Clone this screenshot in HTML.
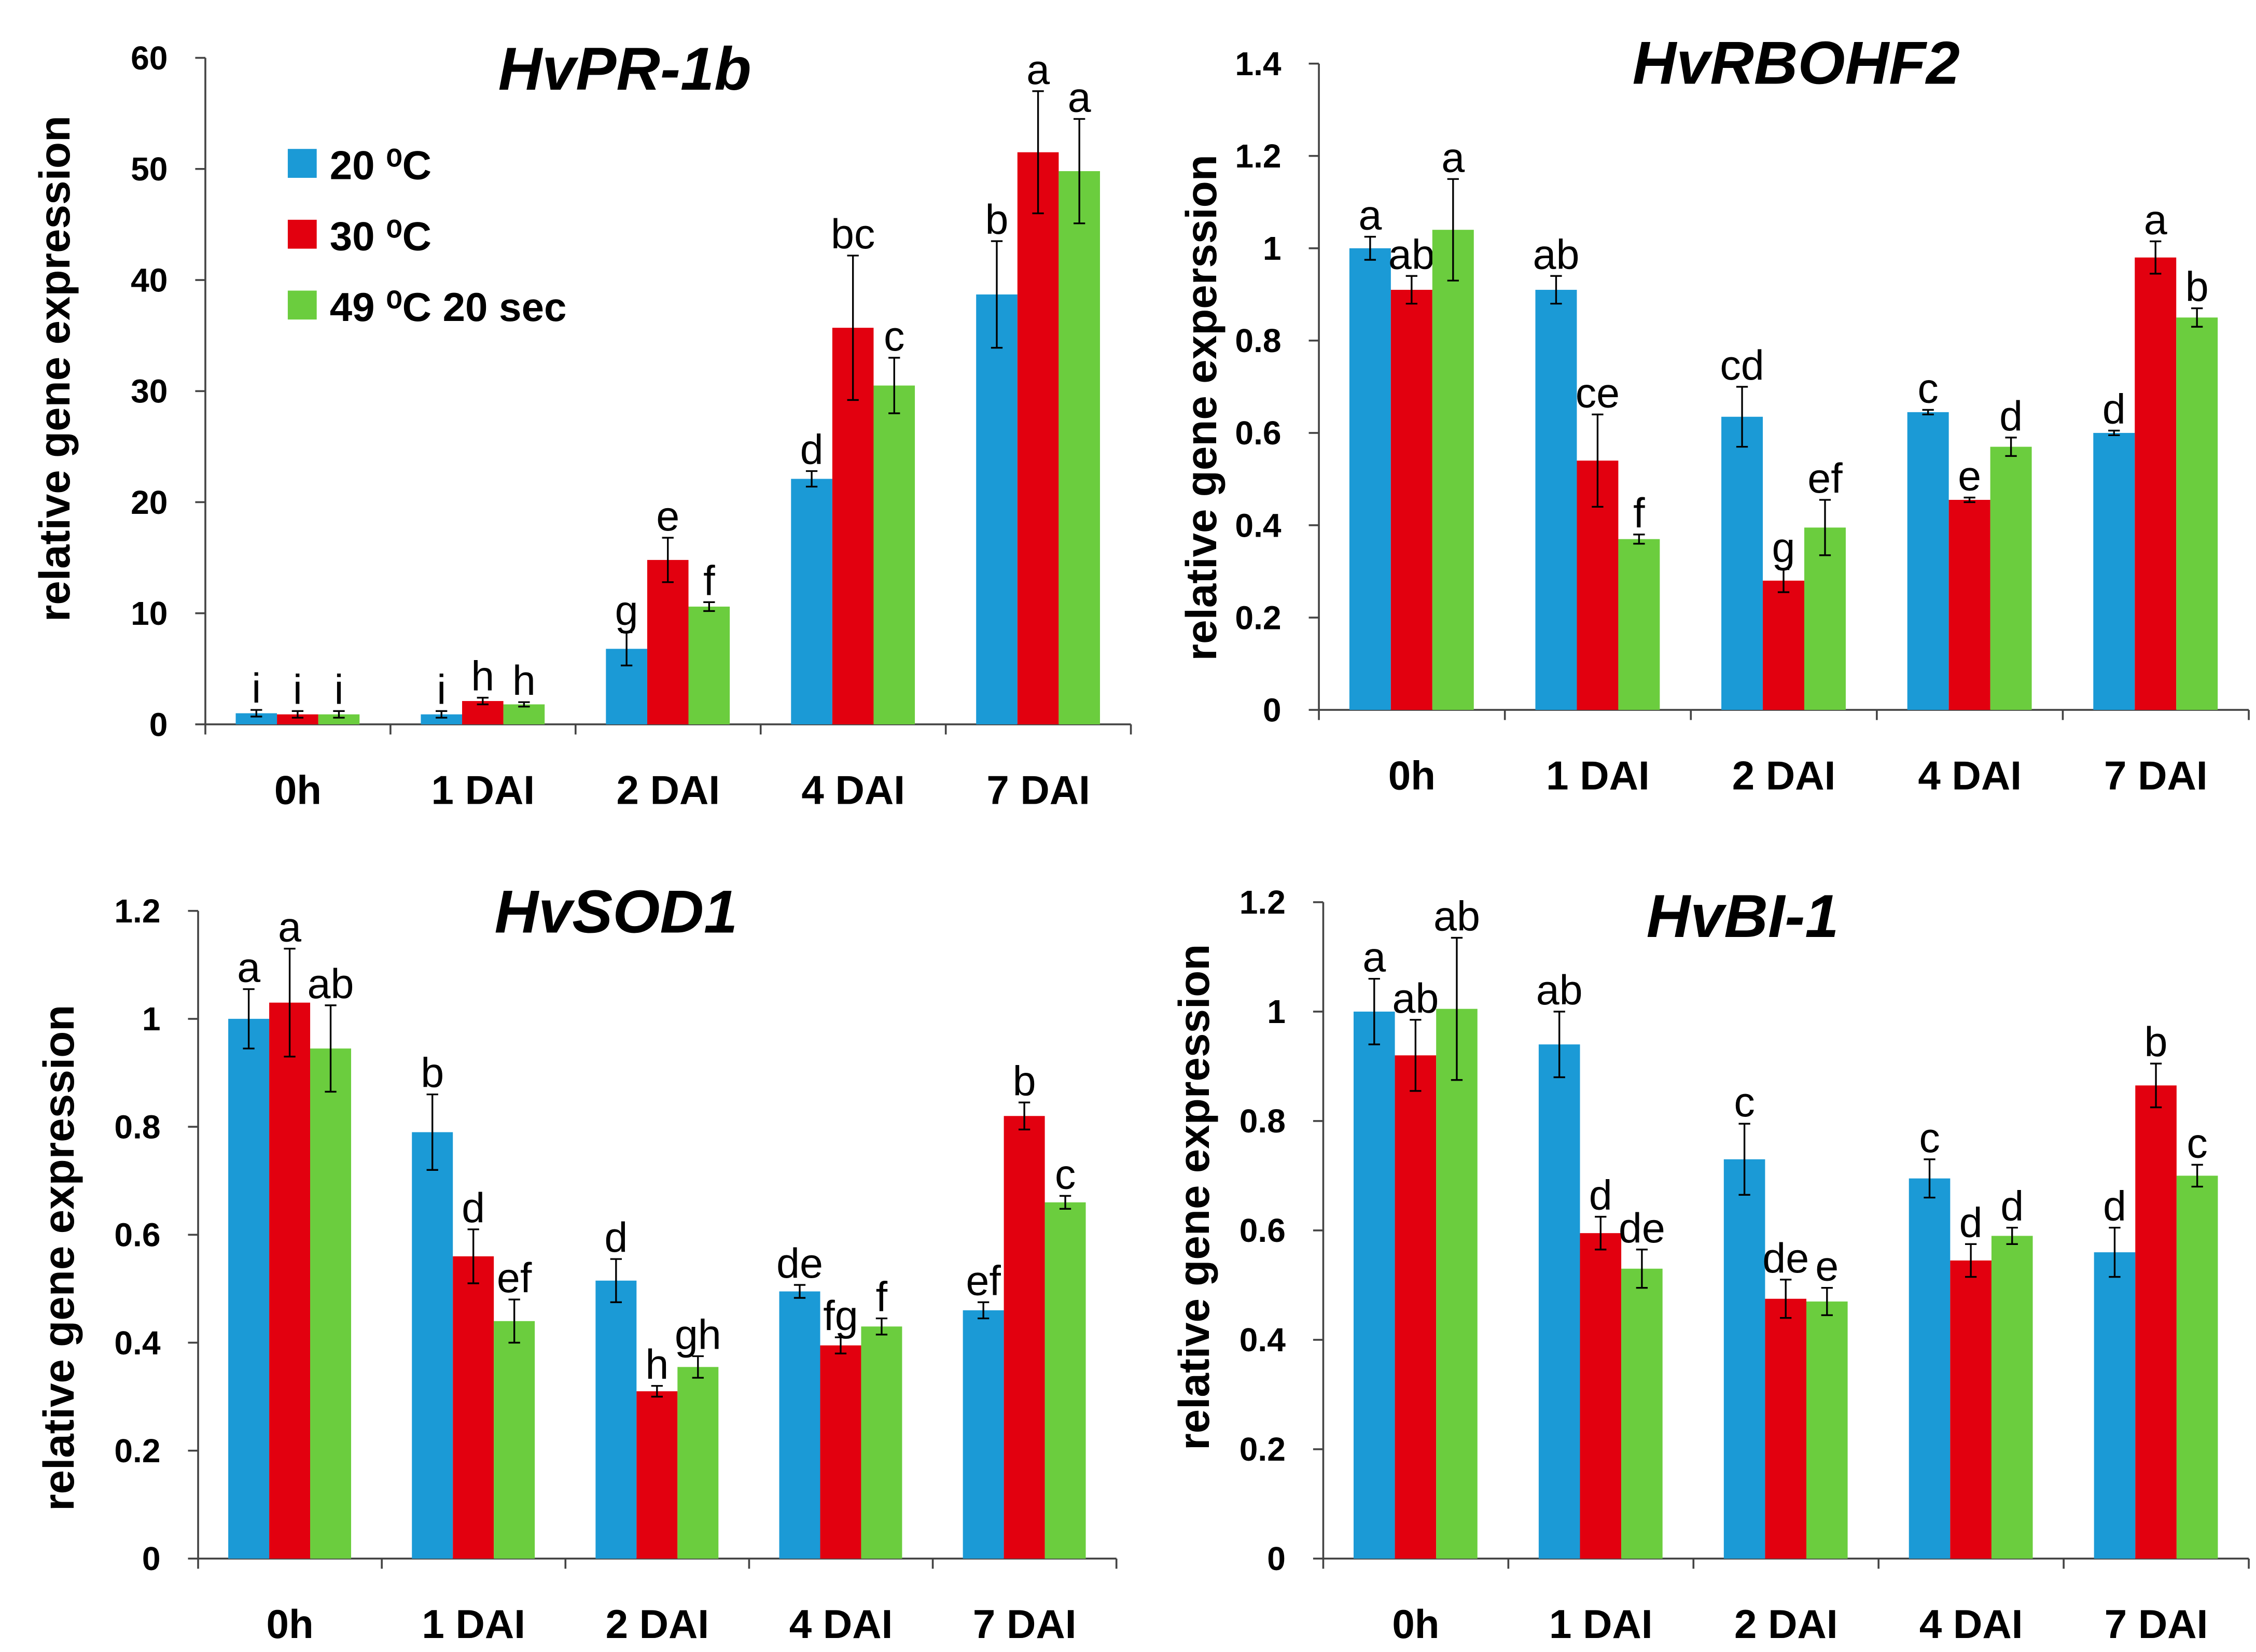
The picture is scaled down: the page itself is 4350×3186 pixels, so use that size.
<!DOCTYPE html>
<html><head><meta charset="utf-8"><style>
html,body{margin:0;padding:0;background:#fff;}
svg{display:block;font-family:"Liberation Sans",Arial,sans-serif;}
</style></head><body>
<svg id="fig" width="4350" height="3186" viewBox="0 0 1560 1142.6" preserveAspectRatio="none" xmlns="http://www.w3.org/2000/svg"></svg>
<script>
const categories = ["0h","1 DAI","2 DAI","4 DAI","7 DAI"];
const seriesNames = ["20 \u2070C","30 \u2070C","49 \u2070C 20 sec"];
const colors = ["#1b9ad6","#e2000f","#6bcd3e"];

const pr1bValues = [[1.0,0.9,0.9],[0.9,2.1,1.8],[6.8,14.8,10.6],[22.1,35.7,30.5],[38.7,51.5,49.8]];
const pr1bErrors = [[0.3,0.3,0.3],[0.3,0.3,0.2],[1.5,2.0,0.4],[0.7,6.5,2.5],[4.8,5.5,4.7]];
const pr1bLetters = [["i","i","i"],["i","h","h"],["g","e","f"],["d","bc","c"],["b","a","a"]];
const pr1bTicks = [0,10,20,30,40,50,60];

const rbohValues = [[1.0,0.91,1.04],[0.91,0.54,0.37],[0.635,0.28,0.395],[0.645,0.455,0.57],[0.60,0.98,0.85]];
const rbohErrors = [[0.025,0.03,0.11],[0.03,0.10,0.01],[0.065,0.025,0.06],[0.005,0.005,0.02],[0.005,0.035,0.02]];
const rbohLetters = [["a","ab","a"],["ab","ce","f"],["cd","g","ef"],["c","e","d"],["d","a","b"]];
const rbohTicks = [0,0.2,0.4,0.6,0.8,1,1.2,1.4];

const sodValues = [[1.0,1.03,0.945],[0.79,0.56,0.44],[0.515,0.31,0.355],[0.495,0.395,0.43],[0.46,0.82,0.66]];
const sodErrors = [[0.055,0.1,0.08],[0.07,0.05,0.04],[0.04,0.01,0.02],[0.012,0.015,0.015],[0.015,0.025,0.012]];
const sodLetters = [["a","a","ab"],["b","d","ef"],["d","h","gh"],["de","fg","f"],["ef","b","c"]];
const sodTicks = [0,0.2,0.4,0.6,0.8,1,1.2];

const biValues = [[1.0,0.92,1.005],[0.94,0.595,0.53],[0.73,0.475,0.47],[0.695,0.545,0.59],[0.56,0.865,0.70]];
const biErrors = [[0.06,0.065,0.13],[0.06,0.03,0.035],[0.065,0.035,0.025],[0.035,0.03,0.015],[0.045,0.04,0.02]];
const biLetters = [["a","ab","ab"],["ab","d","de"],["c","de","e"],["c","d","d"],["d","b","c"]];
const biTicks = [0,0.2,0.4,0.6,0.8,1,1.2];

const NS="http://www.w3.org/2000/svg";
const svg=document.getElementById('fig');
function mk(tag,attrs,parent,text){const e=document.createElementNS(NS,tag);for(const k in attrs)e.setAttribute(k,attrs[k]);if(text!==undefined)e.textContent=text;(parent||svg).appendChild(e);return e;}

function panel(cfg){
  const g=mk('g',{});
  
  
  const maxV=cfg.ticks[cfg.ticks.length-1];
  const y=v=>cfg.y0-(v/maxV)*(cfg.y0-cfg.yTop);
  const gw=(cfg.x1-cfg.x0)/categories.length;
  const x=(ci,si)=>cfg.x0+ci*gw+gw*0.164+si*gw*0.223;
  const bw=gw*0.223;
  const ya=mk('line',{x1:cfg.x0,y1:cfg.yTop,x2:cfg.x0,y2:cfg.y0,stroke:'#444','stroke-width':1.3},g);
  
  const xa=mk('line',{x1:cfg.x0,y1:cfg.y0,x2:cfg.x1,y2:cfg.y0,stroke:'#444','stroke-width':1.3},g);
  
  cfg.ticks.forEach(t=>{
    mk('line',{x1:cfg.x0-7,y1:y(t),x2:cfg.x0,y2:y(t),stroke:'#444','stroke-width':1.3},g);
    const tl=mk('text',{x:cfg.x0-26,y:y(t)+8,'text-anchor':'end','font-size':23,'font-weight':'bold',fill:'#000'},g,String(t));
    
  });
  for(let i=0;i<=categories.length;i++){
    mk('line',{x1:cfg.x0+i*gw,y1:cfg.y0,x2:cfg.x0+i*gw,y2:cfg.y0+7,stroke:'#444','stroke-width':1.3},g);
  }
  categories.forEach((c,ci)=>{
    const t=mk('text',{x:cfg.x0+ci*gw+gw/2,y:cfg.y0+55,'text-anchor':'middle','font-size':28,'font-weight':'bold'},g,c);
    
    for(let si=0;si<3;si++){
      const v=cfg.values[ci][si],e=cfg.errors[ci][si];
      const r=mk('rect',{x:x(ci,si),y:y(v),width:bw,height:cfg.y0-y(v),fill:colors[si]},g);
      
      const cx=x(ci,si)+bw/2;
      const eb=mk('path',{d:`M${cx},${y(v+e)}V${y(v-e)}M${cx-4},${y(v+e)}H${cx+4}M${cx-4},${y(v-e)}H${cx+4}`,stroke:'#000','stroke-width':1.2,fill:'none'},g);
      
      const lt=mk('text',{x:cx,y:y(v+e)-5,'text-anchor':'middle','font-size':29,fill:'#000'},g,cfg.letters[ci][si]);
      
    }
  });
  const ttl=mk('text',{x:cfg.tx,y:cfg.ty,'text-anchor':'middle','font-size':42,'font-weight':'bold','font-style':'italic'},g,cfg.title);
  
  const yl=mk('text',{x:0,y:0,'text-anchor':'middle','font-size':30,'font-weight':'bold',transform:`translate(${cfg.lx},${cfg.ly}) rotate(-90)`},g,cfg.ylabel);
  
}

panel({name:'hvpr1b',title:'HvPR-1b',values:pr1bValues,errors:pr1bErrors,letters:pr1bLetters,ticks:pr1bTicks,x0:142,x1:782,y0:501,yTop:40,tx:432,ty:62,lx:48,ly:255,ylabel:'relative gene expression'});
panel({name:'hvrbohf2',title:'HvRBOHF2',values:rbohValues,errors:rbohErrors,letters:rbohLetters,ticks:rbohTicks,x0:912,x1:1555,y0:491,yTop:44,tx:1242,ty:58,lx:841,ly:282,ylabel:'relative gene experssion'});
panel({name:'hvsod1',title:'HvSOD1',values:sodValues,errors:sodErrors,letters:sodLetters,ticks:sodTicks,x0:137,x1:772,y0:1078,yTop:630,tx:426,ty:645,lx:51,ly:870,ylabel:'relative gene expression'});
panel({name:'hvbi1',title:'HvBI-1',values:biValues,errors:biErrors,letters:biLetters,ticks:biTicks,x0:915,x1:1555,y0:1078,yTop:624,tx:1205,ty:648,lx:836,ly:828,ylabel:'relative gene expression'});

const lg=mk('g',{});

seriesNames.forEach((n,i)=>{
  const yy=103+i*49;
  const s=mk('rect',{x:199,y:yy,width:20,height:20,fill:colors[i]},lg);
  
  const t=mk('text',{x:228,y:yy+21,'font-size':28,'font-weight':'bold'},lg,n);
  
});
</script>
</body></html>
